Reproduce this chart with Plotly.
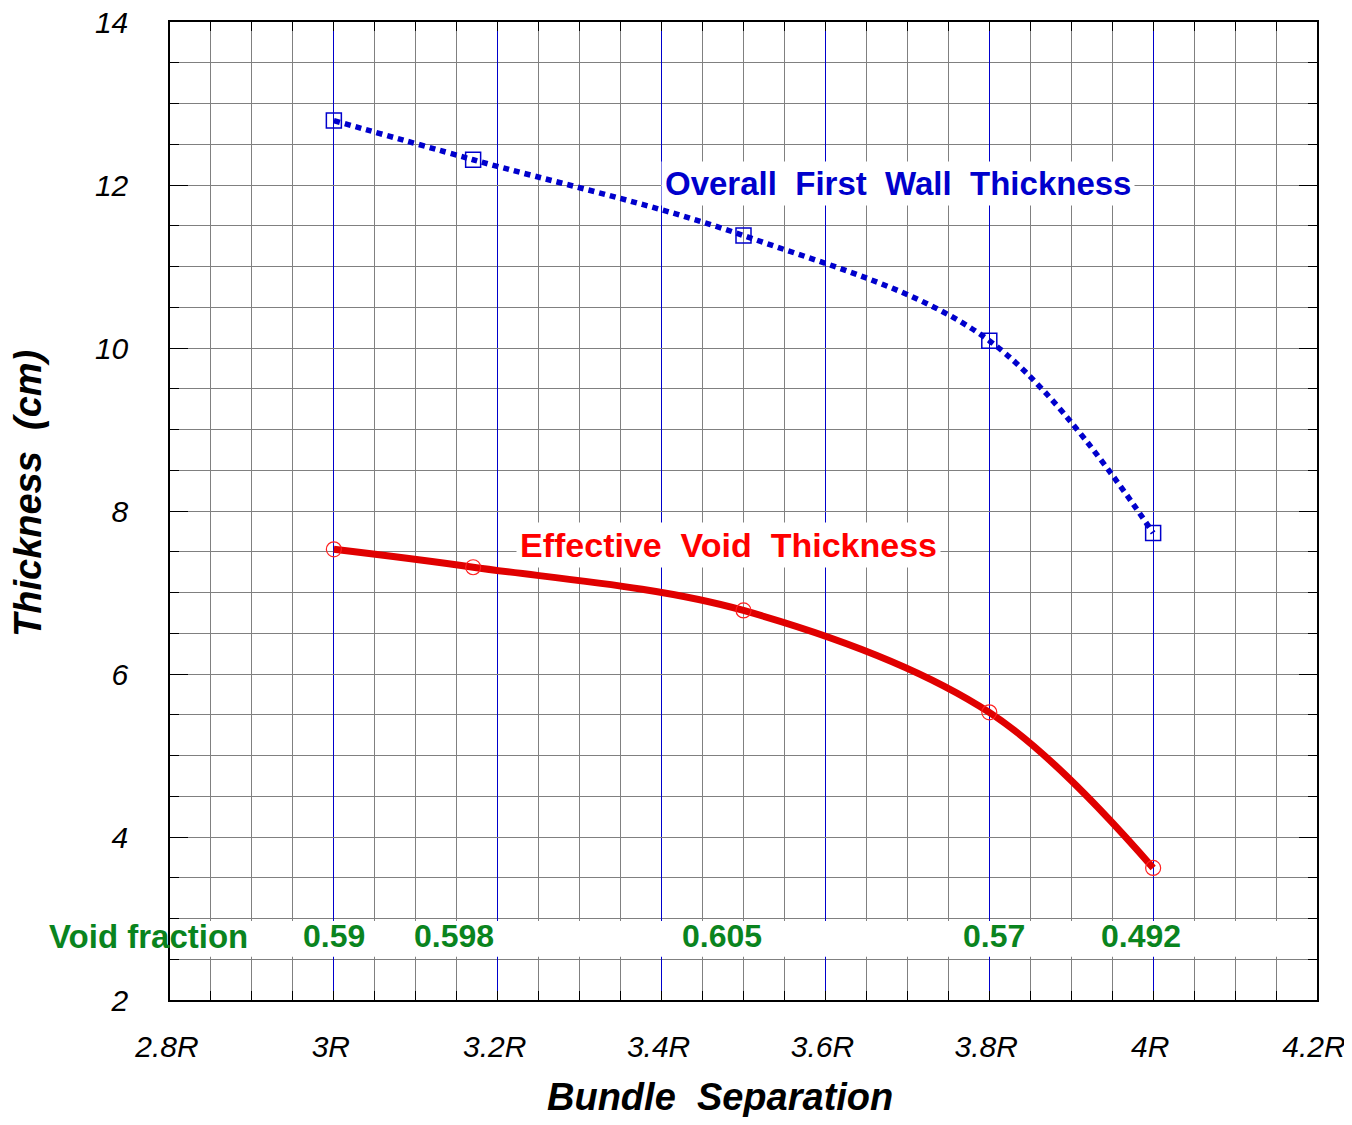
import plotly.graph_objects as go

# ---- data ----
separation = [3.0, 3.17, 3.5, 3.8, 4.0]                 # bundle separation (in R)
overall_wall = [12.79, 12.31, 11.38, 10.09, 7.73]        # cm
effective_void = [7.53, 7.31, 6.78, 5.53, 3.62]          # cm
void_fraction_labels = ["0.59", "0.598", "0.605", "0.57", "0.492"]
void_fraction_label_x = [3.0, 3.147, 3.474, 3.806, 3.985]
void_fraction_row_y = 2.78
x_tick_vals = [2.8, 3.0, 3.2, 3.4, 3.6, 3.8, 4.0, 4.2]
x_tick_text = ["2.8R", "3R", "3.2R", "3.4R", "3.6R", "3.8R", "4R", "4.2R"]
y_tick_vals = [2, 4, 6, 8, 10, 12, 14]

FONT = "Liberation Sans, Arial, sans-serif"
BLUE = "#0000cc"
RED = "#e00000"
GREEN = "#0a841e"
GRAY = "#808080"

fig = go.Figure()

fig.add_trace(go.Scatter(
    x=separation, y=overall_wall, mode="lines+markers",
    line=dict(color=BLUE, width=5.5, dash="6px,5px", shape="spline", smoothing=1),
    marker=dict(symbol="square-open", size=15, color=BLUE, line=dict(width=1.5, color=BLUE)),
    showlegend=False, cliponaxis=False,
))
fig.add_trace(go.Scatter(
    x=separation, y=effective_void, mode="lines+markers",
    line=dict(color=RED, width=7, shape="spline", smoothing=1),
    marker=dict(symbol="circle-open", size=15, color="#ff2020", line=dict(width=1.2, color="#ff2020")),
    showlegend=False, cliponaxis=False,
))

# white band behind void-fraction row
fig.add_shape(type="rect", xref="x", yref="y", x0=2.803, x1=4.197, y0=2.53, y1=2.97,
              fillcolor="white", line=dict(width=0), layer="above")

# curve labels
fig.add_annotation(x=3.6886, y=12.02, xref="x", yref="y",
                   text="<b>Overall\u00a0 First\u00a0 Wall\u00a0 Thickness</b>",
                   showarrow=False, bgcolor="white", borderpad=3,
                   font=dict(family=FONT, size=33, color=BLUE))
fig.add_annotation(x=3.4818, y=7.58, xref="x", yref="y",
                   text="<b>Effective\u00a0 Void\u00a0 Thickness</b>",
                   showarrow=False, bgcolor="white", borderpad=3,
                   font=dict(family=FONT, size=34, color="#ff0000"))

# void fraction row
fig.add_annotation(x=-0.0187, y=void_fraction_row_y, xref="paper", yref="y",
                   text="<b>Void fraction</b>", showarrow=False,
                   xanchor="center", yanchor="middle",
                   font=dict(family=FONT, size=33, color=GREEN))
for lx, lt in zip(void_fraction_label_x, void_fraction_labels):
    fig.add_annotation(x=lx, y=void_fraction_row_y, xref="x", yref="y",
                       text=f"<b>{lt}</b>", showarrow=False,
                       xanchor="center", yanchor="middle",
                       font=dict(family=FONT, size=32, color=GREEN))

# axis titles
fig.add_annotation(x=0.4795, y=-0.0992, xref="paper", yref="paper",
                   text="<b><i>Bundle\u00a0 Separation</i></b>", showarrow=False,
                   xanchor="center", yanchor="middle",
                   font=dict(family=FONT, size=38, color="black"))
fig.add_annotation(x=-0.1238, y=0.5174, xref="paper", yref="paper",
                   text="<b><i>Thickness\u00a0 (cm)</i></b>", showarrow=False,
                   textangle=-90, xanchor="center", yanchor="middle",
                   font=dict(family=FONT, size=38, color="black"))

fig.update_xaxes(
    range=[2.8, 4.2], tickvals=x_tick_vals,
    ticktext=[t + "\u2009" for t in x_tick_text],
    ticks="inside", ticklen=9, tickwidth=1.2, tickcolor="black",
    showline=True, linecolor="black", linewidth=1.5, mirror="ticks",
    showgrid=True, gridcolor=BLUE, gridwidth=1,
    minor=dict(dtick=0.05, tick0=2.8, ticks="inside", ticklen=9, tickcolor="black",
               showgrid=True, gridcolor=GRAY, gridwidth=1.2),
    tickfont=dict(family=FONT, size=30, color="black", style="italic"),
    ticklabelstandoff=19, automargin=False, ticklabeloverflow="allow",
    zeroline=False,
)
fig.update_yaxes(
    range=[2, 14], tickvals=y_tick_vals,
    ticks="inside", ticklen=18, tickwidth=1.2, tickcolor="black",
    showline=True, linecolor="black", linewidth=1.5, mirror="ticks",
    showgrid=True, gridcolor=GRAY, gridwidth=1.2,
    minor=dict(dtick=0.5, tick0=2, ticks="inside", ticklen=9, tickcolor="black",
               showgrid=True, gridcolor=GRAY, gridwidth=1.2),
    tickfont=dict(family=FONT, size=30, color="black", style="italic"),
    ticklabelstandoff=34, automargin=False, ticklabeloverflow="allow",
    zeroline=False,
)

# the page body adds an 8px offset, so the figure is sized/margined to compensate
fig.update_layout(
    width=1344, height=1109,
    margin=dict(l=162, r=35, t=14, b=117),
    paper_bgcolor="white", plot_bgcolor="white",
    font=dict(family=FONT),
)

fig.write_html("out.html")
